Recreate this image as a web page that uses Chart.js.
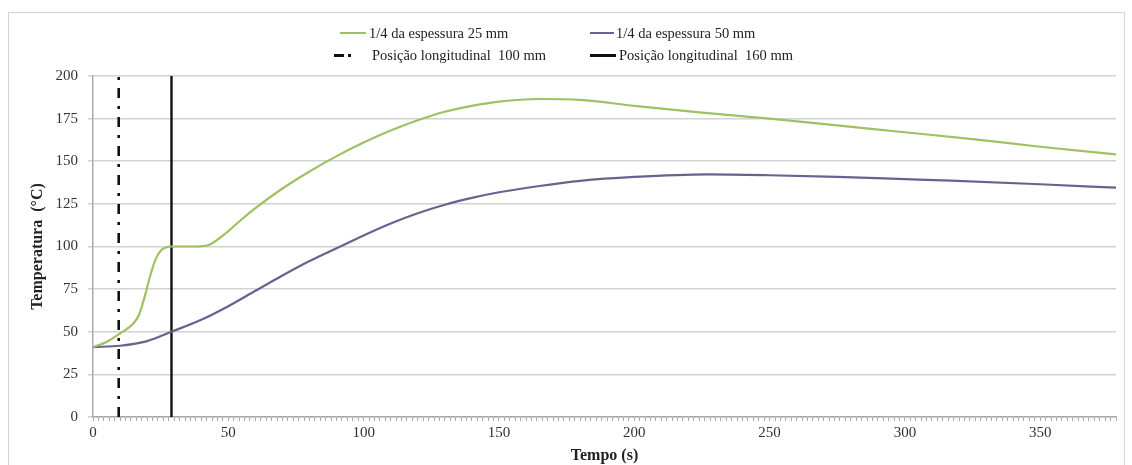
<!DOCTYPE html>
<html>
<head>
<meta charset="utf-8">
<script src="https://cdn.jsdelivr.net/npm/chart.js@4.4.1/dist/chart.umd.min.js"></script>
<style>
    html, body { margin: 0; padding: 0; background: #fff; }
    #wrap { position: relative; width: 1132px; height: 465px; }
    #legend { position: absolute; left: 0; top: 0; font-family: 'Liberation Serif', 'Times New Roman', serif; font-size: 14.5px; color: #222; }
    .item { position: absolute; white-space: pre; line-height: 16px; }
    .sw { position: absolute; }
</style>
</head>
<body>
<div id="wrap">
    <canvas id="chart" width="1132" height="465"></canvas>
    <div id="legend"></div>
</div>
<script>
// Tempo (s) / Temperatura (°C)
const t25 = [0, 5, 10, 15, 17, 19, 21, 23, 25, 27, 29, 33, 38, 43, 46, 50, 55, 60, 70, 80, 90, 100, 110, 120, 130, 140, 150, 165, 180, 200, 225, 250, 275, 300, 325, 350, 378];
const temp25 = [41, 44, 49, 55, 60, 70, 82, 92, 97.5, 99.5, 100, 100, 100, 101, 104, 109, 116, 122.5, 134, 144, 153, 161, 168, 174, 179, 182.5, 185, 186.5, 186, 182.5, 178.5, 175, 171, 167, 163, 158.5, 154];

const t50 = [0, 10, 20, 29, 40, 50, 60, 70, 80, 90, 100, 110, 120, 130, 140, 150, 165, 180, 200, 227, 250, 275, 300, 317, 350, 378];
const temp50 = [41, 41.8, 44.5, 50, 57, 65, 74, 83, 91.5, 99, 106.5, 113.5, 119.5, 124.5, 128.5, 131.8, 135.5, 138.5, 140.8, 142.3, 141.8, 140.8, 139.5, 138.6, 136.5, 134.5];

// longitudinal positions (s)
const pos100 = 9.5;
const pos160 = 29;

const seriesNames = ['1/4 da espessura 25 mm', '1/4 da espessura 50 mm', 'Posição longitudinal  100 mm', 'Posição longitudinal  160 mm'];
const xTickLabels = [0, 50, 100, 150, 200, 250, 300, 350];
const yTickLabels = [0, 25, 50, 75, 100, 125, 150, 175, 200];

const GREEN = '#9fc163';
const PURPLE = '#6b6190';
const SERIF = "'Liberation Serif', 'Times New Roman', serif";

const pairs = (xs, ys) => xs.map((x, i) => ({ x: x, y: ys[i] }));
const vline = x => [{ x: x, y: yTickLabels[0] }, { x: x, y: yTickLabels[yTickLabels.length - 1] }];

// light frame around the whole figure
const framePlugin = {
    id: 'frame',
    beforeDraw(chart) {
        const ctx = chart.ctx;
        ctx.save();
        ctx.strokeStyle = '#d3d3d3';
        ctx.lineWidth = 1;
        ctx.strokeRect(8.5, 12.5, 1116, 470);
        ctx.restore();
    }
};

new Chart(document.getElementById('chart'), {
    type: 'line',
    data: {
        datasets: [
            {
                label: seriesNames[0],
                data: pairs(t25, temp25),
                borderColor: GREEN,
                borderWidth: 2.2,
                pointRadius: 0,
                cubicInterpolationMode: 'monotone',
            },
            {
                label: seriesNames[1],
                data: pairs(t50, temp50),
                borderColor: PURPLE,
                borderWidth: 2.2,
                pointRadius: 0,
                cubicInterpolationMode: 'monotone',
            },
            {
                label: seriesNames[2],
                data: vline(pos100),
                borderColor: '#111',
                borderWidth: 2.6,
                borderDash: [10, 8, 3, 8],
                pointRadius: 0,
            },
            {
                label: seriesNames[3],
                data: vline(pos160),
                borderColor: '#111',
                borderWidth: 2.4,
                pointRadius: 0,
            }
        ]
    },
    options: {
        responsive: false,
        animation: false,
        layout: { padding: { left: 8, right: 16, top: 76, bottom: 0 } },
        plugins: { legend: { display: false }, tooltip: { enabled: false } },
        scales: {
            x: {
                type: 'linear',
                min: 0,
                max: 378,
                afterFit: s => { s.height = 48; },
                ticks: {
                    stepSize: 2,
                    maxTicksLimit: 1000,
                    autoSkip: false,
                    maxRotation: 0,
                    padding: 3,
                    color: '#333',
                    font: { family: SERIF, size: 15 },
                    callback: v => xTickLabels.includes(v) ? String(v) : ''
                },
                grid: { drawOnChartArea: false, tickLength: 4, color: '#aaa' },
                border: { color: '#aaa', width: 1.5 },
                title: {
                    display: true,
                    text: 'Tempo (s)',
                    color: '#222',
                    padding: { top: 0, bottom: 0 },
                    font: { family: SERIF, size: 16, weight: 'bold' }
                }
            },
            y: {
                min: 0,
                max: 200,
                afterFit: s => { s.width = 85; },
                ticks: {
                    stepSize: 25,
                    padding: 10,
                    color: '#333',
                    font: { family: SERIF, size: 15 },
                    callback: v => yTickLabels.includes(v) ? String(v) : ''
                },
                grid: { color: '#d2d2d2', lineWidth: 1.6, tickLength: 5 },
                border: { color: '#aaa', width: 1.5 },
                title: {
                    display: true,
                    text: 'Temperatura  (°C)',
                    color: '#222',
                    padding: { top: 20, bottom: 0 },
                    font: { family: SERIF, size: 16, weight: 'bold' }
                }
            }
        }
    },
    plugins: [framePlugin]
});

// two-row legend at the top
const legend = document.getElementById('legend');
const legendItems = [
    { name: seriesNames[0], y: 33, swatch: [{ l: 340, w: 26, h: 2, c: GREEN }], text: 369 },
    { name: seriesNames[1], y: 33, swatch: [{ l: 590, w: 24, h: 2, c: PURPLE }], text: 616 },
    { name: seriesNames[2], y: 55, swatch: [{ l: 334, w: 10, h: 3, c: '#111' }, { l: 348, w: 3, h: 3, c: '#111' }], text: 372 },
    { name: seriesNames[3], y: 55, swatch: [{ l: 590, w: 26, h: 3, c: '#111' }], text: 619 }
];
legendItems.forEach(it => {
    it.swatch.forEach(s => {
        const d = document.createElement('div');
        d.className = 'sw';
        d.style.cssText = `left:${s.l}px;top:${it.y - s.h / 2}px;width:${s.w}px;height:${s.h}px;background:${s.c};`;
        legend.appendChild(d);
    });
    const t = document.createElement('div');
    t.className = 'item';
    t.textContent = it.name;
    t.style.left = it.text + 'px';
    t.style.top = (it.y - 8) + 'px';
    legend.appendChild(t);
});
</script>
</body>
</html>
